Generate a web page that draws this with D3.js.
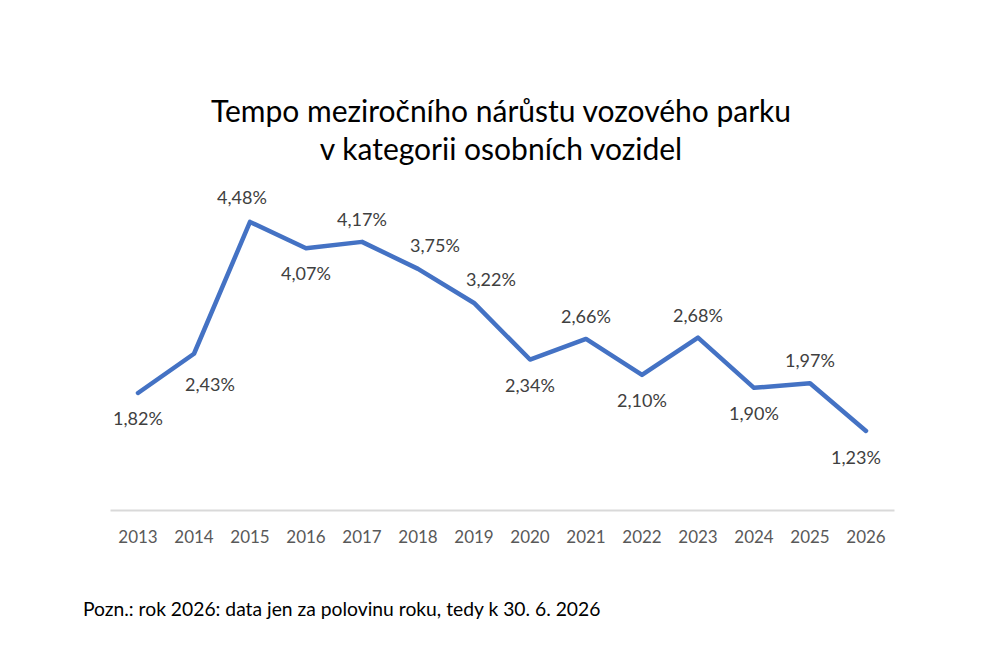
<!DOCTYPE html>
<html>
<head>
<meta charset="utf-8">
<script src="https://cdn.jsdelivr.net/npm/d3@7"></script>
<style>
  body { margin: 0; background: #fff; }
  svg text { font-family: Lato, "Open Sans", sans-serif; }
</style>
</head>
<body>
<div id="chart"></div>
<script>
var years = ["2013", "2014", "2015", "2016", "2017", "2018", "2019", "2020", "2021", "2022", "2023", "2024", "2025", "2026"];
var growth = [1.82, 2.43, 4.48, 4.07, 4.17, 3.75, 3.22, 2.34, 2.66, 2.10, 2.68, 1.90, 1.97, 1.23];
var titleLines = ["Tempo meziročního nárůstu vozového parku", "v kategorii osobních vozidel"];
var note = "Pozn.: rok 2026: data jen za polovinu roku, tedy k 30. 6. 2026";

// where each data label sits relative to its point
var labelPos = ["b", "br", "tl", "b", "t", "tr", "tr", "b", "t", "b", "t", "b", "t", "bl"];
var offsets = {
    "t": [0, -16], "b": [0, 32], "tr": [17, -17], "br": [16, 37],
    "tl": [-8, -18], "bl": [-10, 33]
};

var width = 1002, height = 668;

var svg = d3.select("#chart")
    .append("svg")
    .attr("width", width)
    .attr("height", height);

var x = d3.scaleBand()
    .domain(years)
    .range([110, 894]);

var y = d3.scaleLinear()
    .domain([0, 5])
    .range([510, 188.5]);

//title
svg.append("g")
    .selectAll("text")
    .data(titleLines)
    .enter()
    .append("text")
    .attr("x", 501)
    .attr("y", function (d, i) { return 122 + i * 38; })
    .attr("text-anchor", "middle")
    .style("font-size", "30px")
    .attr("fill", "#000")
    .text(function (d) { return d; });

// x axis
var xAxis = svg.append("g")
    .attr("transform", "translate(0,510)")
    .call(d3.axisBottom(x).tickSize(0).tickPadding(21));
xAxis.select(".domain")
    .attr("stroke", "#d9d9d9")
    .attr("stroke-width", 2);
xAxis.selectAll("text")
    .style("font-size", "17px")
    .style("font-family", "Lato, sans-serif")
    .attr("fill", "#595959");

var line = d3.line()
    .x(function (d, i) { return x(years[i]) + x.bandwidth() / 2; })
    .y(function (d) { return y(d); });

svg.append("path")
    .datum(growth)
    .attr("d", line)
    .attr("fill", "none")
    .attr("stroke", "#4472c4")
    .attr("stroke-width", 4.5)
    .attr("stroke-linejoin", "round")
    .attr("stroke-linecap", "round");

// data labels
svg.append("g")
    .selectAll("text")
    .data(growth)
    .enter()
    .append("text")
    .attr("x", function (d, i) { return x(years[i]) + x.bandwidth() / 2 + offsets[labelPos[i]][0]; })
    .attr("y", function (d, i) { return y(d) + offsets[labelPos[i]][1]; })
    .attr("text-anchor", "middle")
    .style("font-size", "18px")
    .attr("fill", "#404040")
    .text(function (d) { return d.toFixed(2).replace(".", ",") + "%"; });

// note
svg.append("text")
    .attr("x", 83)
    .attr("y", 616)
    .style("font-size", "19.3px")
    .attr("fill", "#000")
    .text(note);
</script>
</body>
</html>
